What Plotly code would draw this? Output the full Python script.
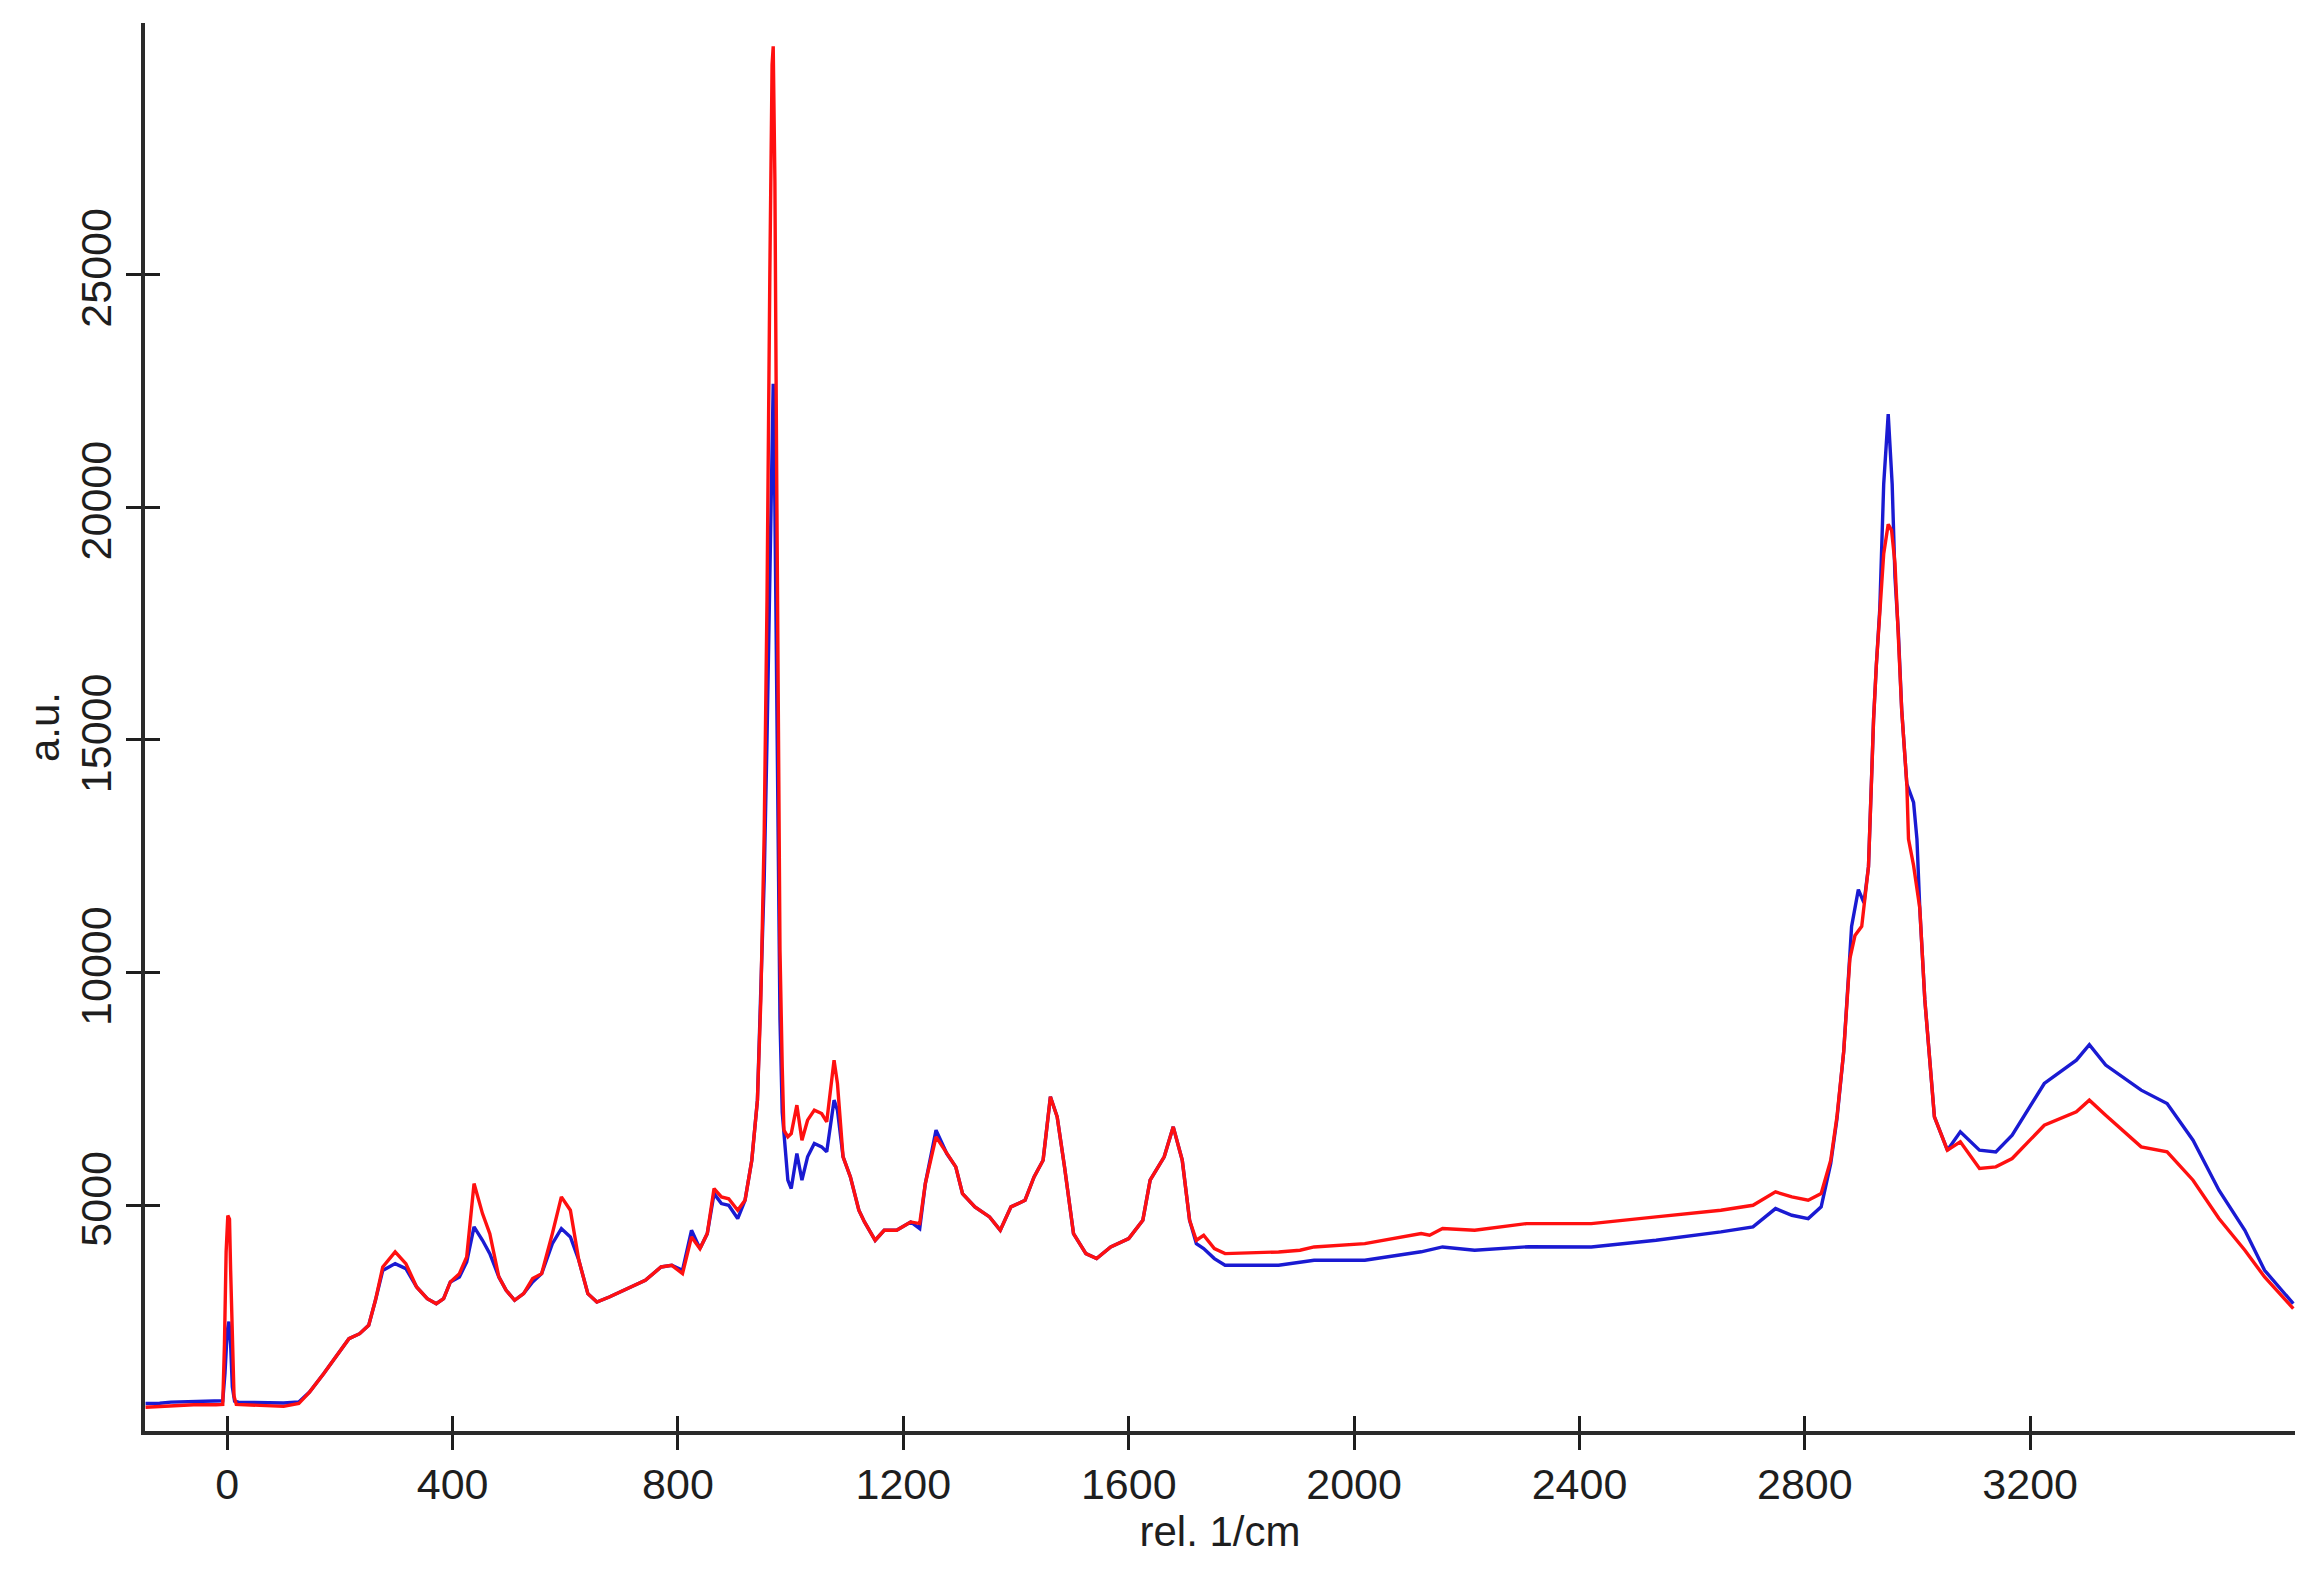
import plotly.graph_objects as go

# Raman spectra: (wavenumber rel. 1/cm, intensity a.u.)
blue_spectrum = [
    (-145, 740), (-120, 745), (-100, 770), (-60, 785), (-20, 790), (-8, 800), (-4, 1400),
    (0, 2300), (3, 2500), (6, 2000), (9, 1100), (13, 790), (20, 770), (60, 760), (100, 750),
    (127, 772), (146, 987), (171, 1381), (197, 1811), (216, 2134), (235, 2241), (251, 2420),
    (263, 2958), (276, 3600), (298, 3746), (317, 3639), (336, 3245), (355, 2994), (371, 2886),
    (384, 2994), (396, 3352), (412, 3460), (425, 3780), (438, 4535), (453, 4248), (466, 3961),
    (482, 3460), (495, 3173), (510, 2958), (526, 3101), (542, 3350), (558, 3531), (577, 4176),
    (593, 4499), (609, 4320), (624, 3818), (640, 3101), (656, 2922), (678, 3029), (704, 3173),
    (742, 3388), (770, 3674), (789, 3710), (808, 3603), (824, 4463), (839, 4069), (852, 4391),
    (864, 5250), (877, 5036), (890, 5000), (906, 4714), (919, 5108), (931, 5968), (941, 7258),
    (947, 9400), (953, 12000), (958, 15000), (963, 19000), (967, 22000), (969, 22650),
    (972, 20000), (975, 16000), (978, 12000), (981, 9000), (985, 7000), (988, 6613),
    (995, 5538), (1001, 5359), (1011, 6111), (1020, 5538), (1030, 6040), (1042, 6326),
    (1055, 6255), (1064, 6147), (1077, 7258), (1083, 7043), (1093, 6040), (1106, 5609),
    (1121, 4893), (1131, 4642), (1150, 4248), (1166, 4463), (1188, 4463), (1213, 4642),
    (1229, 4499), (1239, 5466), (1258, 6613), (1277, 6111), (1293, 5825), (1305, 5251),
    (1327, 4965), (1353, 4750), (1372, 4463), (1391, 4965), (1416, 5108), (1432, 5609),
    (1448, 5968), (1461, 7330), (1473, 6900), (1486, 5825), (1502, 4391), (1524, 3961),
    (1543, 3854), (1568, 4104), (1600, 4284), (1625, 4678), (1638, 5538), (1663, 6040),
    (1679, 6685), (1695, 5968), (1708, 4678), (1720, 4176), (1733, 4069), (1752, 3854),
    (1771, 3710), (1866, 3710), (1929, 3818), (2019, 3818), (2119, 4000), (2157, 4104),
    (2214, 4033), (2310, 4110), (2421, 4104), (2536, 4248), (2651, 4427), (2708, 4535),
    (2748, 4929), (2777, 4785), (2806, 4714), (2829, 4965), (2846, 5900), (2857, 6850),
    (2869, 8300), (2880, 10400), (2883, 10992), (2895, 11781), (2905, 11500), (2913, 12275),
    (2919, 14348), (2922, 15434), (2927, 16618), (2933, 17800), (2940, 20500), (2948, 21998),
    (2955, 20500), (2960, 18500), (2966, 17309), (2972, 15631), (2981, 14052), (2993, 13657),
    (2999, 12867), (3004, 11386), (3013, 9412), (3022, 8000), (3030, 6900), (3053, 6183),
    (3076, 6577), (3110, 6183), (3139, 6147), (3168, 6505), (3225, 7616), (3282, 8118),
    (3305, 8450), (3334, 8011), (3397, 7473), (3443, 7186), (3489, 6398), (3535, 5323),
    (3581, 4463), (3616, 3603), (3667, 2886),
]

red_spectrum = [
    (-145, 660), (-100, 690), (-60, 715), (-20, 715), (-8, 720), (-5, 2000), (-2, 4000),
    (1, 4780), (4, 4700), (6, 3600), (9, 2000), (12, 900), (16, 720), (60, 700), (100, 680),
    (127, 740), (146, 987), (171, 1381), (197, 1811), (216, 2134), (235, 2241), (251, 2420),
    (263, 2958), (276, 3674), (298, 3997), (317, 3746), (336, 3245), (355, 2994), (371, 2886),
    (384, 2994), (396, 3352), (412, 3531), (425, 3890), (438, 5466), (453, 4821), (466, 4391),
    (482, 3460), (495, 3173), (510, 2958), (526, 3101), (542, 3424), (558, 3531), (577, 4391),
    (593, 5180), (609, 4893), (624, 3818), (640, 3101), (656, 2922), (678, 3029), (704, 3173),
    (742, 3388), (770, 3674), (789, 3710), (808, 3531), (824, 4319), (839, 4069), (852, 4391),
    (864, 5359), (877, 5179), (890, 5140), (906, 4893), (919, 5108), (931, 5968), (941, 7258),
    (947, 9400), (953, 13000), (958, 18000), (963, 25000), (967, 29500), (969, 29900),
    (972, 27000), (975, 21000), (978, 15000), (981, 10500), (985, 7975), (988, 6613),
    (995, 6470), (1001, 6541), (1011, 7150), (1020, 6398), (1030, 6828), (1042, 7043),
    (1055, 6971), (1064, 6792), (1077, 8118), (1083, 7616), (1093, 6040), (1106, 5609),
    (1121, 4893), (1131, 4642), (1150, 4248), (1166, 4463), (1188, 4463), (1213, 4642),
    (1229, 4606), (1239, 5466), (1258, 6470), (1277, 6111), (1293, 5825), (1305, 5251),
    (1327, 4965), (1353, 4750), (1372, 4463), (1391, 4965), (1416, 5108), (1432, 5609),
    (1448, 5968), (1461, 7330), (1473, 6900), (1486, 5825), (1502, 4391), (1524, 3961),
    (1543, 3854), (1568, 4104), (1600, 4284), (1625, 4678), (1638, 5538), (1663, 6040),
    (1679, 6685), (1695, 5968), (1708, 4678), (1720, 4248), (1733, 4355), (1752, 4069),
    (1771, 3961), (1866, 3997), (1904, 4033), (1929, 4104), (2019, 4176), (2119, 4391),
    (2134, 4355), (2157, 4499), (2214, 4463), (2306, 4606), (2421, 4606), (2536, 4750),
    (2651, 4893), (2708, 5000), (2748, 5287), (2777, 5180), (2806, 5108), (2829, 5251),
    (2846, 5968), (2857, 6900), (2869, 8300), (2880, 10300), (2889, 10794), (2901, 10992),
    (2913, 12275), (2919, 14348), (2922, 15434), (2927, 16618), (2933, 17800), (2940, 19000),
    (2948, 19629), (2954, 19500), (2960, 18790), (2966, 17309), (2972, 15631), (2981, 14052),
    (2984, 12867), (2993, 12300), (3004, 11386), (3013, 9412), (3022, 8000), (3030, 6900),
    (3053, 6183), (3076, 6362), (3110, 5789), (3139, 5825), (3168, 6004), (3225, 6720),
    (3282, 7007), (3305, 7258), (3334, 6935), (3397, 6254), (3443, 6147), (3489, 5538),
    (3535, 4714), (3581, 4033), (3616, 3459), (3667, 2779),
]

x_ticks = [0, 400, 800, 1200, 1600, 2000, 2400, 2800, 3200]
y_ticks = [5000, 10000, 15000, 20000, 25000]
x_title = "rel. 1/cm"
y_title = "a.u."

X_RANGE = [-146, 3670]
Y_RANGE = [150, 30400]
FONT = "Liberation Sans, Arial, sans-serif"
INK = "#1e1e1e"

fig = go.Figure()
fig.add_trace(go.Scatter(
    x=[p[0] for p in blue_spectrum], y=[p[1] for p in blue_spectrum],
    mode="lines", line=dict(color="#1a1ad2", width=3.4), xaxis="x", yaxis="y",
    showlegend=False, hoverinfo="skip"))
fig.add_trace(go.Scatter(
    x=[p[0] for p in red_spectrum], y=[p[1] for p in red_spectrum],
    mode="lines", line=dict(color="#ff1010", width=3.4), xaxis="x2", yaxis="y2",
    showlegend=False, hoverinfo="skip"))

common_x = dict(range=X_RANGE, tickmode="array", tickvals=x_ticks, showgrid=False,
                zeroline=False, tickwidth=2.5, tickcolor=INK, ticklen=15)
common_y = dict(range=Y_RANGE, tickmode="array", tickvals=y_ticks, showgrid=False,
                zeroline=False, tickwidth=2.5, tickcolor=INK, ticklen=15)

fig.update_layout(
    width=2315, height=1574,
    margin=dict(l=145, r=20, t=23, b=143),
    paper_bgcolor="white", plot_bgcolor="white",
    font=dict(family=FONT, size=43, color=INK),
    xaxis=dict(**common_x, showline=True, linewidth=4, linecolor="#2a2a2a",
               ticks="outside", ticktext=[str(v) for v in x_ticks],
               ticklabelstandoff=-3,
               title=dict(text=x_title, font=dict(size=42, family=FONT, color=INK), standoff=2)),
    yaxis=dict(**common_y, showline=True, linewidth=4, linecolor="#2a2a2a",
               ticks="outside", tickangle=-90, ticktext=[str(v) for v in y_ticks],
               ticklabelstandoff=-2,
               title=dict(text=y_title, font=dict(size=42, family=FONT, color=INK), standoff=0)),
    xaxis2=dict(**common_x, overlaying="x", anchor="y2", ticks="inside",
                showticklabels=False, showline=False),
    yaxis2=dict(**common_y, overlaying="y", anchor="x2", ticks="inside",
                showticklabels=False, showline=False),
)

fig.write_html("out.html", config={"displayModeBar": False},
               post_script="document.body.style.margin='0';")
